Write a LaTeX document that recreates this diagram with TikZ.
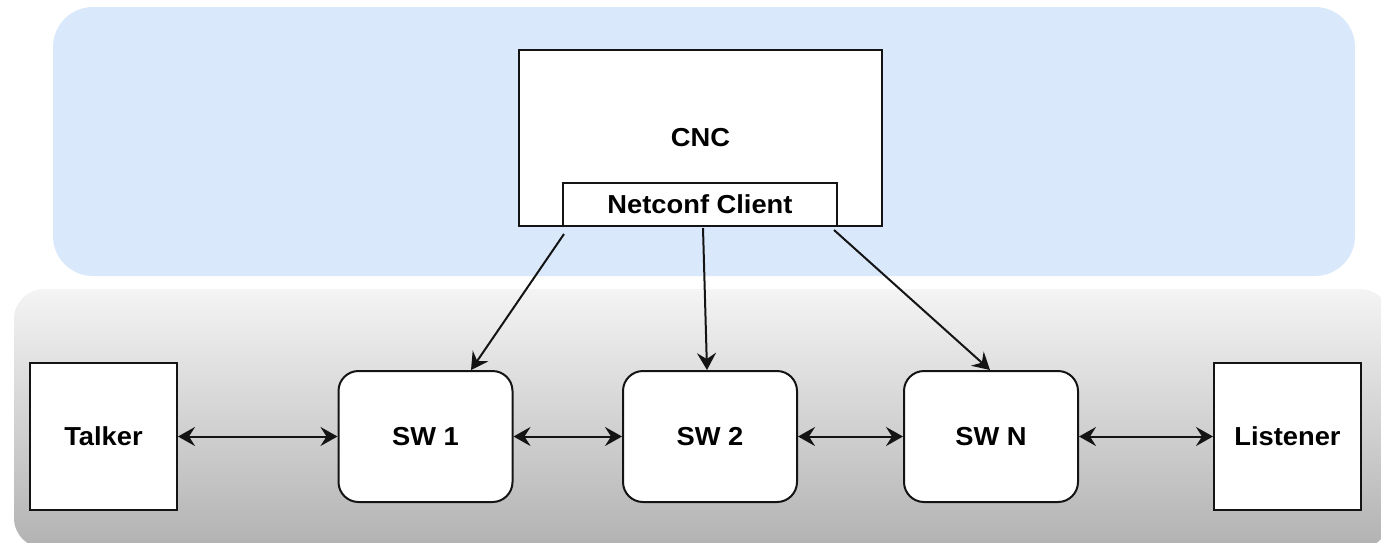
\documentclass[tikz,border=0pt]{standalone}
\usepackage{fontspec}
\setmainfont{Liberation Sans}
\newfontfamily\lblfont[FakeStretch=1.05]{Liberation Sans}
\usetikzlibrary{arrows.meta,calc}
\definecolor{ctrlblue}{RGB}{218,232,252}
\definecolor{nettop}{RGB}{244,244,244}
\definecolor{netbottom}{RGB}{178,178,178}
\definecolor{edgeink}{RGB}{20,20,20}
\begin{document}
\begin{tikzpicture}[x=1pt,y=-1pt,
  lbl/.style={font=\lblfont\fontsize{26}{30}\selectfont\bfseries},
  plainbox/.style={lbl, draw=edgeink, line width=2pt, fill=white, inner sep=0pt},
  endbox/.style={plainbox, minimum width=147pt, minimum height=147pt},
  swbox/.style={plainbox, rounded corners=20pt, minimum width=174pt, minimum height=131pt},
  link/.style={draw=edgeink, line width=2pt,
    {Stealth[length=17pt,width=19pt,inset=6pt]}-{Stealth[length=17pt,width=19pt,inset=6pt]}},
  ctrl/.style={draw=edgeink, line width=2pt, -{Stealth[length=17pt,width=19pt,inset=6pt]}}
]
\useasboundingbox (0,0) rectangle (1381,542);
\clip (0,0) rectangle (1381,542);
\fill[white] (0,0) rectangle (1381,542);

% control plane panel
\fill[ctrlblue, rounded corners=40pt] (53,7) rectangle (1355,276);

% data plane panel with vertical gradient
\shade[top color=nettop, bottom color=netbottom, rounded corners=30pt]
  (14,289) rectangle (1390,548);

% CNC with its Netconf client
\node[plainbox, minimum width=363pt, minimum height=176pt] (cnc) at (700.5,138) {CNC};
\node[plainbox, minimum width=274pt, minimum height=43pt] (nc) at (700,204.5) {Netconf Client};

% end stations and bridges
\node[endbox] (talker) at (103.5,436.5) {Talker};
\node[swbox] (sw1) at (425.5,436.5) {SW 1};
\node[swbox] (sw2) at (710,436.5) {SW 2};
\node[swbox] (swn) at (991,436.5) {SW N};
\node[endbox] (listener) at (1287.5,436.5) {Listener};

% data links
\draw[link] (talker) -- (sw1);
\draw[link] (sw1) -- (sw2);
\draw[link] (sw2) -- (swn);
\draw[link] (swn) -- (listener);

% management connections from the Netconf client
\coordinate (m1) at ($(nc.south west)+(2,7)$);
\coordinate (m2) at ($(nc.south)+(3,1)$);
\coordinate (m3) at ($(nc.south east)+(-4,3)$);
\draw[ctrl] (m1) -- ([xshift=45.5pt]sw1.north);
\draw[ctrl] (m2) -- ([xshift=-3pt]sw2.north);
\draw[ctrl] (m3) -- ([xshift=-1pt]swn.north);
\end{tikzpicture}
\end{document}
